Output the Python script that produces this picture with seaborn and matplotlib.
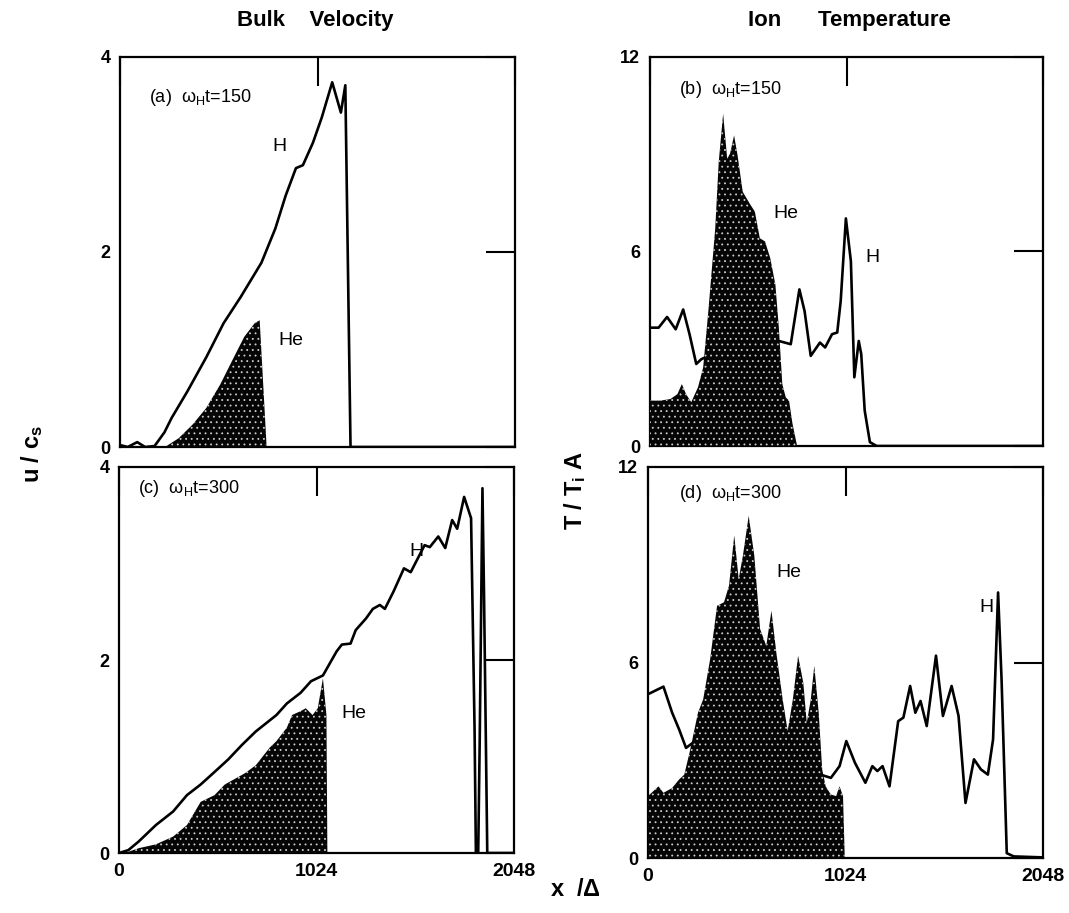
import matplotlib
matplotlib.use("Agg")
import matplotlib.pyplot as plt
import seaborn as sns

sns.set_style("white")
plt.rcParams["font.family"] = ["Liberation Sans", "DejaVu Sans"]
plt.rcParams["mathtext.fontset"] = "custom"
plt.rcParams["mathtext.rm"] = "Liberation Sans"
plt.rcParams["mathtext.it"] = "Liberation Sans:italic"
plt.rcParams["mathtext.bf"] = "Liberation Sans:bold"
plt.rcParams["hatch.linewidth"] = 0.6
for k in ["text.color", "axes.labelcolor", "xtick.color", "ytick.color", "axes.edgecolor"]:
    plt.rcParams[k] = "black"

# %%
# Data (x in grid cells, 0..2048)

# (a) bulk velocity, t=150
h_a_x = [0, 40, 89, 130, 179, 230, 268, 349, 447, 537, 626, 733, 805, 859, 912, 948,
         1000, 1046, 1100, 1145, 1168, 1195, 2048]
h_a_y = [0.02, 0.0, 0.05, 0.0, 0.01, 0.15, 0.30, 0.57, 0.92, 1.27, 1.54, 1.89, 2.24, 2.58,
         2.86, 2.89, 3.12, 3.38, 3.74, 3.43, 3.71, 0.0, 0.0]
he_a_x = [233, 304, 376, 447, 519, 590, 644, 698, 724, 760]
he_a_y = [0.0, 0.09, 0.23, 0.40, 0.64, 0.92, 1.13, 1.27, 1.30, 0.0]

# (b) ion temperature, t=150
h_b_x = [0, 45, 89, 134, 173, 206, 241, 268, 350, 450, 550, 671, 733, 778, 805, 837, 885,
         912, 948, 975, 993, 1020, 1046, 1064, 1087, 1100, 1118, 1145, 1180, 2048]
h_b_y = [3.65, 3.65, 3.98, 3.6, 4.21, 3.45, 2.53, 2.68, 2.9, 3.0, 3.1, 3.24, 3.14, 4.83,
         4.16, 2.78, 3.19, 3.04, 3.45, 3.5, 4.47, 7.02, 5.7, 2.12, 3.24, 2.83, 1.09, 0.12,
         0.0, 0.0]
he_b_x = [0, 54, 107, 143, 166, 188, 215, 250, 277, 304, 340, 358, 381, 402, 417, 438, 456,
          483, 519, 546, 572, 599, 626, 653, 671, 689, 707, 724, 742, 766]
he_b_y = [1.40, 1.40, 1.45, 1.6, 1.91, 1.6, 1.35, 1.81, 2.42, 4.16, 6.72, 8.76, 10.25, 8.86,
          9.02, 9.58, 8.97, 7.84, 7.48, 7.23, 6.41, 6.31, 5.8, 4.98, 3.65, 1.91, 1.5, 1.4,
          0.69, 0.0]

# (c) bulk velocity, t=300
h_c_x = [0, 48, 102, 191, 280, 352, 423, 495, 566, 637, 709, 816, 870, 941, 995, 1057, 1128,
         1155, 1200, 1227, 1280, 1316, 1352, 1378, 1423, 1477, 1512, 1584, 1611, 1655, 1691,
         1727, 1753, 1789, 1825, 1843, 1850, 1862, 1870, 1884, 1892, 1909, 2048]
h_c_y = [0.0, 0.03, 0.12, 0.29, 0.43, 0.60, 0.71, 0.84, 0.97, 1.12, 1.26, 1.43, 1.55, 1.66,
         1.78, 1.84, 2.09, 2.16, 2.17, 2.31, 2.43, 2.53, 2.57, 2.53, 2.71, 2.95, 2.91, 3.19,
         3.17, 3.28, 3.16, 3.45, 3.36, 3.69, 3.47, 1.3, 0.0, 0.0, 1.2, 3.78, 2.7, 0.0, 0.0]
he_c_x = [30, 102, 191, 280, 352, 423, 495, 548, 620, 655, 709, 780, 816, 870, 897, 941, 968,
          1003, 1030, 1057, 1075, 1080]
he_c_y = [0.0, 0.05, 0.09, 0.17, 0.29, 0.53, 0.60, 0.71, 0.79, 0.83, 0.91, 1.09, 1.16, 1.30,
          1.43, 1.47, 1.50, 1.43, 1.50, 1.81, 1.43, 0.0]

# (d) ion temperature, t=300
h_d_x = [0, 18, 80, 125, 161, 197, 233, 268, 358, 411, 501, 608, 715, 823, 894, 948, 993,
         1028, 1073, 1127, 1163, 1189, 1216, 1252, 1297, 1324, 1359, 1386, 1413, 1445, 1493,
         1529, 1574, 1610, 1646, 1690, 1726, 1762, 1789, 1815, 1833, 1860, 1896, 2048]
h_d_y = [5.03, 5.08, 5.26, 4.46, 3.95, 3.38, 3.54, 3.64, 3.95, 3.54, 3.44, 3.03, 2.82, 2.62,
         2.56, 2.46, 2.82, 3.59, 2.92, 2.31, 2.82, 2.67, 2.82, 2.2, 4.2, 4.31, 5.28, 4.46,
         4.82, 4.05, 6.21, 4.36, 5.28, 4.36, 1.69, 3.03, 2.72, 2.56, 3.64, 8.15, 5.49, 0.15,
         0.05, 0.02]
he_d_x = [0, 54, 80, 125, 161, 188, 215, 241, 259, 286, 322, 358, 394, 420, 447, 470, 492,
          522, 551, 581, 613, 640, 665, 698, 724, 751, 778, 805, 823, 844, 862, 885, 903,
          921, 948, 975, 993, 1011, 1020]
he_d_y = [1.9, 2.2, 2.0, 2.15, 2.41, 2.56, 3.23, 3.95, 4.46, 4.87, 6.1, 7.74, 7.85, 8.36,
          9.9, 8.56, 9.28, 10.5, 9.28, 7.03, 6.51, 7.59, 6.31, 4.87, 3.9, 4.87, 6.21, 5.38,
          4.15, 4.87, 5.9, 4.46, 2.72, 2.2, 1.95, 1.9, 2.2, 1.9, 0.0]

x_ticks = [0, 1024, 2048]
x_tick_labels = ["0", "1024", "2048"]
panel_titles = [r"(a)  ω$_{\rm H}$t=150", r"(b)  ω$_{\rm H}$t=150",
                r"(c)  ω$_{\rm H}$t=300", r"(d)  ω$_{\rm H}$t=300"]

# %%
# Figure

fig = plt.figure(figsize=(10.69, 9.13), dpi=100)

panels = [
    # pos, H, He, ymax, ylabels, title pos, H label, He label
    ([0.1123, 0.5104, 0.3695, 0.4272], h_a_x, h_a_y, he_a_x, he_a_y, 4, ["0", "2", "4"],
     (150, 3.58), (790, 3.08), (822, 1.09)),
    ([0.6080, 0.5115, 0.3680, 0.4261], h_b_x, h_b_y, he_b_x, he_b_y, 12, ["0", "6", "12"],
     (150, 11.0), (1120, 5.8), (645, 7.18)),
    ([0.1114, 0.0657, 0.3695, 0.4228], h_c_x, h_c_y, he_c_x, he_c_y, 4, ["0", "2", "4"],
     (100, 3.78), (1505, 3.12), (1150, 1.45)),
    ([0.6062, 0.0602, 0.3695, 0.4283], h_d_x, h_d_y, he_d_x, he_d_y, 12, ["0", "6", "12"],
     (160, 11.2), (1720, 7.7), (665, 8.77)),
]

for i, (pos, hx, hy, hex_, hey, ymax, ylabs, tpos, hpos, hepos) in enumerate(panels):
    ax = fig.add_axes(pos)
    sns.lineplot(x=hx, y=hy, ax=ax, color="black", lw=1.9, estimator=None, zorder=2,
                 solid_joinstyle="round")
    ax.fill_between(hex_, hey, 0, facecolor="0.02", edgecolor="0.8", hatch="...",
                    lw=0, zorder=3)

    ax.set_xlim(0, 2048)
    ax.set_ylim(0, ymax)
    ax.set_xticks(x_ticks)
    ax.set_yticks([0, ymax / 2, ymax])
    ax.set_yticklabels(ylabs, fontweight="bold", fontsize=13)
    if i >= 2:
        ax.set_xticklabels(x_tick_labels, fontweight="bold", fontsize=14)
    else:
        ax.set_xticklabels([])
    ax.tick_params(direction="in", length=21, width=1.5, top=True, right=True, pad=7)
    ax.set_xlabel("")
    ax.set_ylabel("")
    for sp in ax.spines.values():
        sp.set_linewidth(1.6)
        sp.set_color("black")

    ax.text(tpos[0], tpos[1], panel_titles[i], fontsize=13, va="center", ha="left")
    ax.text(hpos[0], hpos[1], "H", fontsize=14, va="center", ha="left")
    ax.text(hepos[0], hepos[1], "He", fontsize=14, va="center", ha="left")

fig.text(0.295, 0.978, "Bulk    Velocity", fontsize=16, fontweight="bold", ha="center", va="center")
fig.text(0.795, 0.978, "Ion      Temperature", fontsize=16, fontweight="bold", ha="center", va="center")
fig.text(0.030, 0.503, r"$\mathbf{u\ /\ c_s}$", fontsize=17, rotation=90, ha="center", va="center")
fig.text(0.538, 0.463, r"$\mathbf{T\ /\ T_{i}\ A}$", fontsize=17, rotation=90, ha="center", va="center")
fig.text(0.538, 0.025, r"$\mathbf{x\ \ /\Delta}$", fontsize=17, ha="center", va="center")

fig.savefig("out.png", dpi=100, facecolor="white")
